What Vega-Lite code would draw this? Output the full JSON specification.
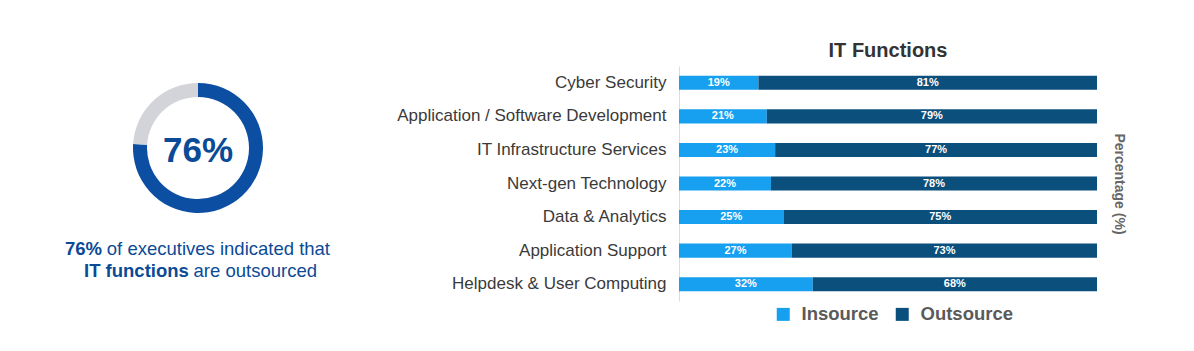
{
  "$schema": "https://vega.github.io/schema/vega-lite/v6.json",
  "padding": {"left": 0, "top": 41, "right": 30, "bottom": 0},
  "background": "white",
  "spacing": 0,
  "config": {"view": {"stroke": null}, "font": "Liberation Sans"},
  "resolve": {"scale": {"color": "independent"}},
  "datasets": {
    "donut": [
      {"part": "Outsourced", "share": 76},
      {"part": "Remaining", "share": 24}
    ],
    "caption": [
      {"segment": "headline", "text": "76%"},
      {"segment": "line1_bold", "text": "76%"},
      {"segment": "line1_rest", "text": "of executives indicated that"},
      {"segment": "line2_bold", "text": "IT functions"},
      {"segment": "line2_rest", "text": "are outsourced"}
    ],
    "functions": [
      {"function": "Cyber Security", "type": "Insource", "value": 0.19},
      {"function": "Cyber Security", "type": "Outsource", "value": 0.81},
      {"function": "Application / Software Development", "type": "Insource", "value": 0.21},
      {"function": "Application / Software Development", "type": "Outsource", "value": 0.79},
      {"function": "IT Infrastructure Services", "type": "Insource", "value": 0.23},
      {"function": "IT Infrastructure Services", "type": "Outsource", "value": 0.77},
      {"function": "Next-gen Technology", "type": "Insource", "value": 0.22},
      {"function": "Next-gen Technology", "type": "Outsource", "value": 0.78},
      {"function": "Data & Analytics", "type": "Insource", "value": 0.25},
      {"function": "Data & Analytics", "type": "Outsource", "value": 0.75},
      {"function": "Application Support", "type": "Insource", "value": 0.27},
      {"function": "Application Support", "type": "Outsource", "value": 0.73},
      {"function": "Helpdesk & User Computing", "type": "Insource", "value": 0.32},
      {"function": "Helpdesk & User Computing", "type": "Outsource", "value": 0.68}
    ]
  },
  "hconcat": [
    {
      "width": 396,
      "height": 164,
      "layer": [
        {
          "data": {"name": "donut"},
          "mark": {"type": "arc", "innerRadius": 51, "outerRadius": 65},
          "encoding": {
            "theta": {"field": "share", "type": "quantitative", "stack": true},
            "color": {"field": "part", "type": "nominal", "scale": {"domain": ["Outsourced", "Remaining"], "range": ["#0b4ea2", "#d3d4d9"]}, "legend": null}
          }
        },
        {
          "data": {"name": "caption"},
          "transform": [{"filter": "datum.segment === 'headline'"}],
          "mark": {"type": "text", "fontSize": 35, "fontWeight": "bold", "color": "#0b4a96", "baseline": "alphabetic", "align": "center", "dy": 14},
          "encoding": {"text": {"field": "text"}}
        },
        {
          "data": {"name": "caption"},
          "transform": [{"filter": "datum.segment === 'line1_bold'"}],
          "mark": {"type": "text", "fontSize": 18.5, "fontWeight": "bold", "color": "#0b4a96", "baseline": "alphabetic", "align": "left", "dx": -133, "dy": 107},
          "encoding": {"text": {"field": "text"}}
        },
        {
          "data": {"name": "caption"},
          "transform": [{"filter": "datum.segment === 'line1_rest'"}],
          "mark": {"type": "text", "fontSize": 18.5, "color": "#0b4a96", "baseline": "alphabetic", "align": "right", "dx": 132, "dy": 107},
          "encoding": {"text": {"field": "text"}}
        },
        {
          "data": {"name": "caption"},
          "transform": [{"filter": "datum.segment === 'line2_bold'"}],
          "mark": {"type": "text", "fontSize": 18.5, "fontWeight": "bold", "color": "#0b4a96", "baseline": "alphabetic", "align": "left", "dx": -114, "dy": 129},
          "encoding": {"text": {"field": "text"}}
        },
        {
          "data": {"name": "caption"},
          "transform": [{"filter": "datum.segment === 'line2_rest'"}],
          "mark": {"type": "text", "fontSize": 18.5, "color": "#0b4a96", "baseline": "alphabetic", "align": "right", "dx": 119, "dy": 129},
          "encoding": {"text": {"field": "text"}}
        }
      ]
    },
    {
      "width": 418,
      "height": 235,
      "data": {"name": "functions"},
      "title": {"text": "IT Functions", "fontSize": 20, "fontWeight": "bold", "color": "#333333", "offset": 5, "anchor": "middle"},
      "layer": [
        {
          "mark": {"type": "bar"},
          "encoding": {
            "y": {
              "field": "function", "type": "nominal", "sort": null,
              "scale": {"paddingInner": 0.58, "paddingOuter": 0.29},
              "axis": {"title": null, "ticks": false, "domain": true, "domainColor": "#dcdcdc", "labelFontSize": 17, "labelColor": "#3a3a3a", "labelPadding": 13, "minExtent": 283, "maxExtent": 283, "labelLimit": 400}
            },
            "x": {"field": "value", "type": "quantitative", "stack": "zero", "scale": {"domain": [0, 1]}, "axis": null},
            "color": {
              "field": "type", "type": "nominal",
              "scale": {"domain": ["Insource", "Outsource"], "range": ["#17a0f0", "#0b4f7c"]},
              "legend": {"orient": "none", "legendX": 95, "legendY": 239, "direction": "horizontal", "title": null, "symbolType": "square", "symbolSize": 169, "symbolStrokeWidth": 0, "labelFontSize": 18.5, "labelFontWeight": "bold", "labelColor": "#5a5a5a", "columnPadding": 14, "labelOffset": 9}
            }
          }
        },
        {
          "mark": {"type": "text", "color": "white", "fontWeight": "bold", "fontSize": 11, "baseline": "middle"},
          "encoding": {
            "y": {"field": "function", "type": "nominal", "sort": null, "axis": null},
            "x": {"field": "value", "type": "quantitative", "stack": "zero", "bandPosition": 0.5},
            "detail": {"field": "type", "type": "nominal"},
            "text": {"field": "value", "type": "quantitative", "format": ".0%"}
          }
        },
        {
          "mark": {"type": "point", "opacity": 0},
          "encoding": {
            "y": {"field": "function", "type": "nominal", "sort": null, "axis": {"orient": "right", "title": "Percentage (%)", "titleAngle": 90, "titleFontSize": 14, "titleFontWeight": "bold", "titleColor": "#666666", "titlePadding": 14, "labels": false, "ticks": false, "domain": false}}
          }
        }
      ],
      "resolve": {"axis": {"y": "independent"}}
    }
  ]
}
